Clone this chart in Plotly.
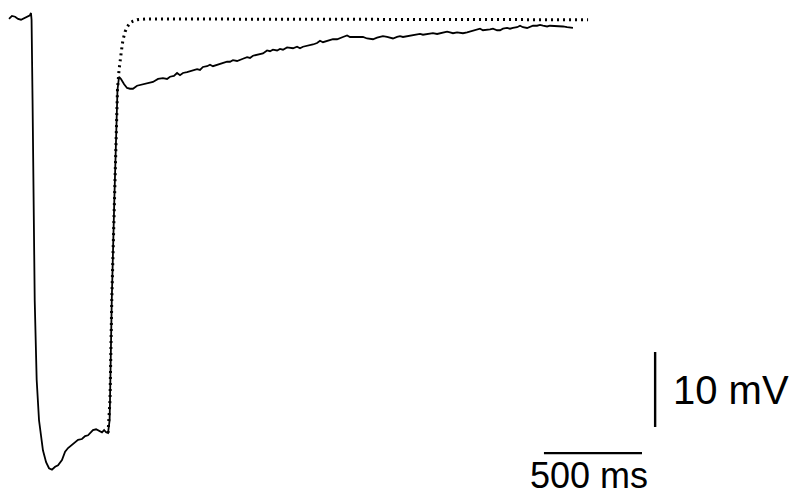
import plotly.graph_objects as go

# Membrane potential traces (time in ms, voltage in mV)
solid_t = [0, 15, 31, 46, 61, 77, 92, 107, 112, 115, 120, 124, 131, 141, 153, 173, 189, 204, 219, 235,
           250, 270, 286, 301, 321, 337, 352, 372, 388, 403, 413, 428, 444, 459, 474, 485, 495, 505,
           513, 515, 524, 537, 546, 553, 561, 571, 587, 602, 617, 632, 653, 683, 709, 734, 760, 785,
           806, 821, 841, 857, 872, 887, 908, 923, 944, 959, 974, 989, 1010, 1025, 1040, 1061, 1076,
           1091, 1112, 1127, 1142, 1163, 1178, 1193, 1214, 1229, 1244, 1265, 1280, 1295, 1316, 1331,
           1346, 1367, 1382, 1397, 1418, 1433, 1448, 1469, 1484, 1499, 1520, 1535, 1550, 1571, 1586,
           1601, 1622, 1637, 1652, 1673, 1688, 1703, 1724, 1739, 1754, 1775, 1790, 1805, 1826, 1841,
           1856, 1877, 1892, 1907, 1928, 1943, 1958, 1979, 1994, 2009, 2030, 2045, 2060, 2081, 2096,
           2111, 2132, 2147, 2162, 2183, 2198, 2213, 2234, 2249, 2264, 2285, 2300, 2315, 2336, 2351,
           2366, 2387, 2402, 2417, 2438, 2453, 2468, 2489, 2504, 2519, 2540, 2555, 2570, 2591, 2606,
           2621, 2642, 2657, 2672, 2693, 2708, 2723, 2744, 2759, 2774, 2795, 2810, 2825, 2846, 2861,
           2876]
solid_v = [-60.0, -59.6, -59.7, -60.0, -60.1, -59.9, -59.7, -59.5, -59.2, -60.1, -70.8, -84.1, -97.5,
           -108.1, -113.5, -117.5, -119.1, -119.9, -120.1, -119.7, -119.5, -118.8, -117.7, -117.2,
           -116.8, -116.4, -116.1, -116.0, -115.6, -115.5, -115.2, -114.8, -114.7, -114.9, -115.1,
           -114.8, -115.1, -115.2, -113.5, -110.8, -97.5, -84.1, -73.5, -69.5, -67.7, -68.0, -68.7,
           -69.2, -69.3, -69.3, -68.9, -68.7, -68.5, -68.4, -68.0, -67.9, -68.0, -67.7, -67.6, -67.2,
           -67.5, -67.2, -67.1, -67.0, -66.9, -66.7, -66.8, -66.4, -66.3, -66.1, -66.3, -66.1, -66.0,
           -65.9, -65.7, -65.7, -65.5, -65.6, -65.5, -65.3, -65.1, -65.2, -64.9, -64.8, -64.7, -64.6,
           -64.2, -64.3, -64.1, -64.2, -64.0, -64.1, -63.8, -63.9, -63.9, -63.7, -63.9, -63.7, -63.6,
           -63.5, -63.4, -63.2, -62.9, -63.1, -62.9, -62.8, -62.7, -62.7, -62.5, -62.4, -62.2, -62.4,
           -62.4, -62.4, -62.3, -62.4, -62.6, -62.7, -62.7, -62.5, -62.4, -62.3, -62.4, -62.5, -62.6,
           -62.4, -62.3, -62.4, -62.3, -62.2, -62.1, -62.1, -62.0, -62.1, -62.0, -61.9, -61.9, -62.0,
           -61.9, -61.8, -61.7, -61.8, -61.9, -61.8, -61.9, -61.9, -61.8, -61.7, -61.6, -61.5, -61.3,
           -61.5, -61.5, -61.4, -61.3, -61.5, -61.5, -61.3, -61.2, -61.3, -61.2, -61.1, -60.9, -61.1,
           -61.2, -61.0, -60.9, -60.9, -60.8, -60.9, -61.0, -60.9, -60.9, -60.9, -60.9, -61.0, -61.1,
           -61.1, -61.2]

dotted_t = [505, 515, 524, 537, 546, 553, 561, 566, 574, 581, 592, 602, 617, 632, 653, 694, 969,
            1480, 1990, 2500, 2953]
dotted_v = [-115.2, -110.8, -97.5, -84.1, -73.5, -69.5, -66.8, -65.5, -64.1, -62.8, -61.7, -61.1,
            -60.5, -60.3, -60.1, -60.0, -60.0, -60.1, -60.1, -60.1, -60.1]

scale_ms = 500
scale_mv = 10
scale_ms_label = "500 ms"
scale_mv_label = "10 mV"

# layout positions (data units)
X_RANGE = [-46, 3993]
Y_RANGE = [-123.73, -57.47]
HBAR_X0, HBAR_Y = 2728, -117.87
VBAR_X, VBAR_Y0 = 3295, -104.4
MS_LABEL_X = 2652
MV_LABEL_X, MV_LABEL_Y = 3376, -109.5

fig = go.Figure()
fig.add_trace(go.Scatter(x=dotted_t, y=dotted_v, mode="lines",
                         line=dict(color="black", width=3, dash="2px,4px"),
                         hoverinfo="skip"))
fig.add_trace(go.Scatter(x=solid_t, y=solid_v, mode="lines",
                         line=dict(color="black", width=1.8),
                         hoverinfo="skip"))
# scale bars
fig.add_trace(go.Scatter(x=[HBAR_X0, HBAR_X0 + scale_ms], y=[HBAR_Y, HBAR_Y], mode="lines",
                         line=dict(color="black", width=2.2), hoverinfo="skip"))
fig.add_trace(go.Scatter(x=[VBAR_X, VBAR_X], y=[VBAR_Y0, VBAR_Y0 - scale_mv], mode="lines",
                         line=dict(color="black", width=2.4), hoverinfo="skip"))

fig.add_annotation(x=MV_LABEL_X, y=MV_LABEL_Y, text=scale_mv_label, showarrow=False,
                   xanchor="left", yanchor="middle",
                   font=dict(family="Liberation Sans, Arial", size=40, color="black"))
fig.add_annotation(x=MS_LABEL_X, xref="x", y=0, yref="paper", yshift=0,
                   text=scale_ms_label, showarrow=False,
                   xanchor="left", yanchor="bottom", borderpad=0,
                   font=dict(family="Liberation Sans, Arial", size=36, color="black"))

fig.update_layout(
    width=792, height=497,
    margin=dict(l=0, r=0, t=0, b=0),
    paper_bgcolor="white", plot_bgcolor="white",
    showlegend=False,
    xaxis=dict(range=X_RANGE, visible=False, fixedrange=True),
    yaxis=dict(range=Y_RANGE, visible=False, fixedrange=True),
)

fig.write_html("out.html")
